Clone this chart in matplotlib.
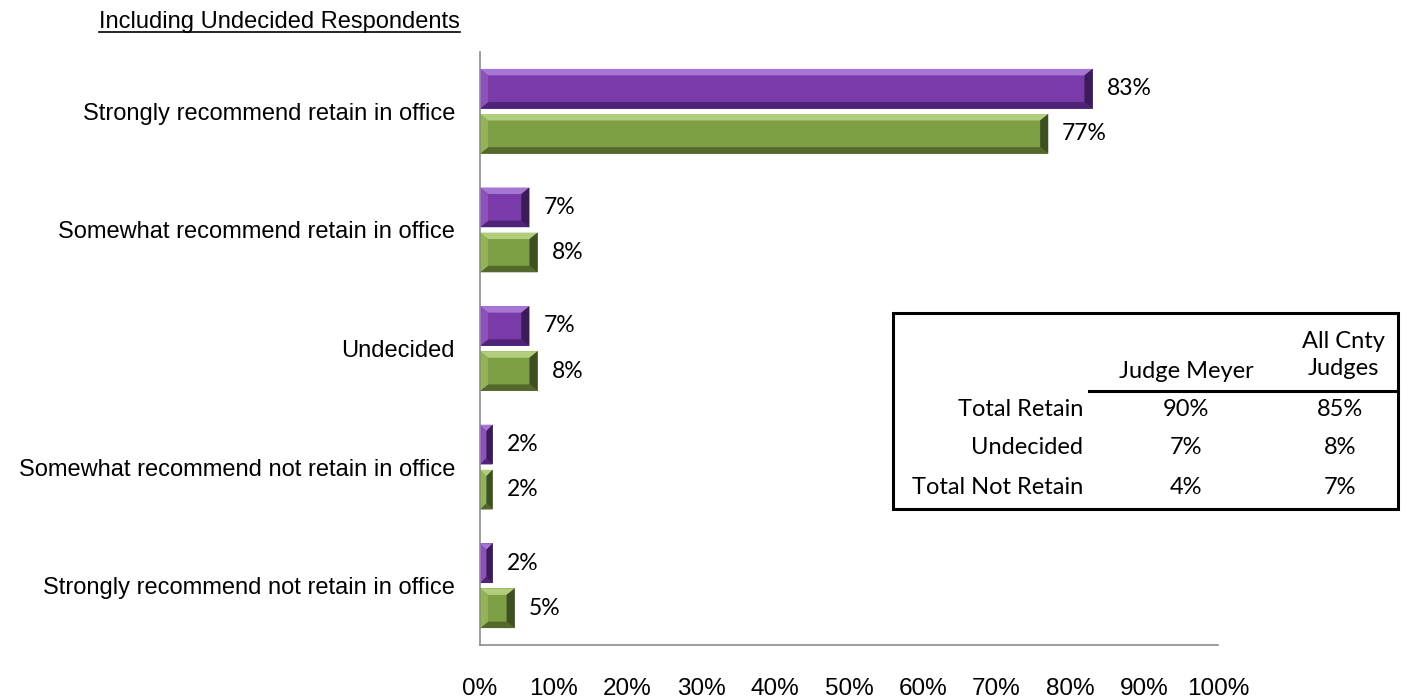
import matplotlib
matplotlib.use("Agg")
import matplotlib.pyplot as plt
import numpy as np
from matplotlib import font_manager
from matplotlib.patches import Polygon, Rectangle
from matplotlib.lines import Line2D

# data
categories = ["Strongly recommend retain in office",
              "Somewhat recommend retain in office",
              "Undecided",
              "Somewhat recommend not retain in office",
              "Strongly recommend not retain in office"]
meyer = [83.0, 6.7, 6.7, 1.7, 1.7]
all_judges = [77.0, 7.8, 7.8, 1.7, 4.7]
meyer_labels = ["83%", "7%", "7%", "2%", "2%"]
all_labels = ["77%", "8%", "8%", "2%", "5%"]
x_ticks = [0, 10, 20, 30, 40, 50, 60, 70, 80, 90, 100]

table_header = ["Judge Meyer", "All Cnty\nJudges"]
table_rows = ["Total Retain", "Undecided", "Total Not Retain"]
table_meyer = ["90%", "7%", "4%"]
table_all = ["85%", "8%", "7%"]

names = {f.name for f in font_manager.fontManager.ttflist}
narrow = "Liberation Sans Narrow" if "Liberation Sans Narrow" in names else "Liberation Sans"
tick_size = 21 if narrow == "Liberation Sans Narrow" else 17.5

W, H = 1411, 700
fig = plt.figure(figsize=(W / 100, H / 100), dpi=100)
ax = fig.add_axes([480 / W, 1 - 645 / H, (1218 - 480) / W, 593 / H])

y = np.arange(len(categories))
bh = 0.335
purple = dict(base="#7A3AA9", light="#A676D4", dark="#4F2476", end="#3C1A5C", left="#8C52BA")
green = dict(base="#7F9F45", light="#B2CE7D", dark="#53682B", end="#3E5020", left="#93B25A")


def bevel(bars, c):
    for p in bars.patches:
        x0, y0, w, h = p.get_x(), p.get_y(), p.get_width(), p.get_height()
        x1, y1 = x0 + w, y0 + h
        bx = min(1.1, w / 2)
        by = 0.055
        # y axis is inverted, so y0 is the top edge on screen
        ax.add_patch(Polygon([(x0, y0), (x1, y0), (x1 - bx, y0 + by), (x0 + bx, y0 + by)],
                             color=c["light"], lw=0))
        ax.add_patch(Polygon([(x0, y1), (x1, y1), (x1 - bx, y1 - by), (x0 + bx, y1 - by)],
                             color=c["dark"], lw=0))
        ax.add_patch(Polygon([(x1, y0), (x1, y1), (x1 - bx, y1 - by), (x1 - bx, y0 + by)],
                             color=c["end"], lw=0))
        ax.add_patch(Polygon([(x0, y0), (x0, y1), (x0 + bx, y1 - by), (x0 + bx, y0 + by)],
                             color=c["left"], lw=0))


b1 = ax.barh(y - 0.19, meyer, height=bh, color=purple["base"])
b2 = ax.barh(y + 0.19, all_judges, height=bh, color=green["base"])
bevel(b1, purple)
bevel(b2, green)

for bars, labels in [(b1, meyer_labels), (b2, all_labels)]:
    for p, lab in zip(bars.patches, labels):
        ax.annotate(lab, (p.get_width(), p.get_y() + p.get_height() / 2),
                    xytext=(10, 0), textcoords="offset points", va="center", ha="left",
                    fontsize=16.5, family=["Lato", "DejaVu Sans"], color="black")

ax.set_xlim(0, 100)
ax.set_ylim(4.5, -0.5)
ax.set_yticks(y)
ax.set_yticklabels(categories, fontsize=17, family="Liberation Sans")
ax.set_xticks(x_ticks)
ax.set_xticklabels([f"{t}%" for t in x_ticks], fontsize=tick_size, family=narrow)
ax.tick_params(axis="y", length=0, pad=18)
ax.tick_params(axis="x", length=0, pad=24)
for s in ["top", "right"]:
    ax.spines[s].set_visible(False)
for s in ["left", "bottom"]:
    ax.spines[s].set_color("#8c8c8c")
    ax.spines[s].set_linewidth(1.2)

# title with underline
title = fig.text(99 / W, 1 - 22 / H, "Including Undecided Respondents", fontsize=17,
                 family="Liberation Sans", ha="left", va="center")

# summary table
fig.patches.append(Rectangle((893 / W, 1 - 509 / H), (1398 - 893) / W, (509 - 313) / H,
                             transform=fig.transFigure, fill=False, ec="black", lw=2.2, zorder=5))
tfont = dict(fontsize=17, family=["Lato", "DejaVu Sans"], va="center", zorder=6)
fig.text(1186 / W, 1 - 371 / H, table_header[0], ha="center", **tfont)
fig.text(1343 / W, 1 - 355 / H, table_header[1], ha="center", linespacing=1.3, **tfont)
fig.add_artist(Line2D([1089 / W, 1398 / W], [1 - 391 / H, 1 - 391 / H], color="black", lw=2.2))
row_y = [410, 448, 487]
for yy, r, m, a in zip(row_y, table_rows, table_meyer, table_all):
    fig.text(1083 / W, 1 - yy / H, r, ha="right", **tfont)
    fig.text(1186 / W, 1 - yy / H, m, ha="center", **tfont)
    fig.text(1340 / W, 1 - yy / H, a, ha="center", **tfont)

fig.canvas.draw()
bb = title.get_window_extent(fig.canvas.get_renderer())
uy = (bb.y0 + 1) / fig.bbox.height
fig.add_artist(Line2D([bb.x0 / fig.bbox.width, bb.x1 / fig.bbox.width], [uy, uy],
                      color="black", lw=1.2))

fig.savefig("out.png", dpi=100)
